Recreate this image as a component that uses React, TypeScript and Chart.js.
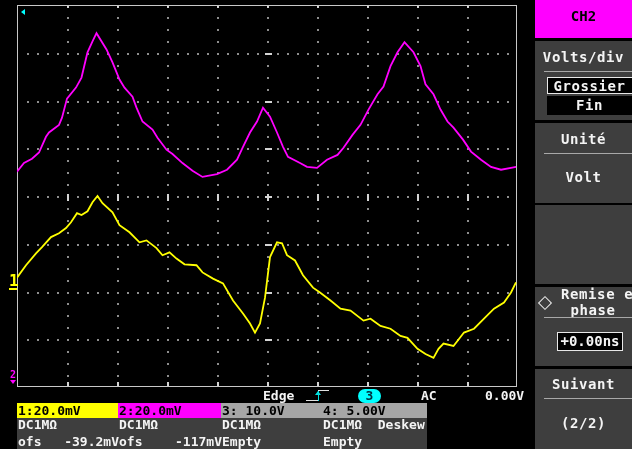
import React, { useEffect, useRef } from "react";
import { Chart, registerables } from "chart.js";
Chart.register(...registerables);

// Horizontal position in divisions (0..10), vertical in divisions (-4..4)
const ch2X = [0.00,0.14,0.30,0.44,0.58,0.64,0.84,0.90,1.00,1.18,1.29,1.41,1.51,1.59,1.79,1.91,2.05,2.15,2.31,2.39,2.51,2.71,2.81,2.99,3.11,3.31,3.51,3.71,4.00,4.20,4.40,4.52,4.66,4.80,4.92,5.06,5.20,5.32,5.42,5.66,5.80,6.00,6.20,6.41,6.53,6.71,6.87,7.03,7.21,7.33,7.47,7.61,7.75,7.93,8.07,8.17,8.33,8.47,8.61,8.73,8.92,9.08,9.28,9.48,9.68,9.88,9.98];
const ch2Y = [0.51,0.69,0.78,0.91,1.24,1.33,1.49,1.64,2.04,2.27,2.48,3.01,3.24,3.41,3.07,2.80,2.44,2.27,2.08,1.85,1.56,1.39,1.22,0.97,0.88,0.69,0.53,0.40,0.46,0.55,0.76,1.03,1.33,1.56,1.85,1.66,1.33,1.03,0.82,0.69,0.61,0.59,0.76,0.86,1.01,1.28,1.49,1.81,2.13,2.29,2.72,3.01,3.22,3.01,2.72,2.34,2.13,1.81,1.56,1.43,1.18,0.93,0.76,0.61,0.55,0.59,0.61];
const ch1X = [0.00,0.18,0.38,0.50,0.68,0.84,0.98,1.08,1.20,1.29,1.41,1.51,1.61,1.71,1.91,2.05,2.25,2.45,2.59,2.79,2.91,3.05,3.19,3.35,3.59,3.71,3.92,4.12,4.32,4.52,4.66,4.76,4.86,4.96,5.06,5.20,5.30,5.40,5.56,5.72,5.92,6.06,6.27,6.47,6.67,6.93,7.07,7.27,7.47,7.67,7.81,8.01,8.17,8.33,8.43,8.53,8.73,8.94,9.14,9.34,9.54,9.74,9.88,9.98];
const ch1Y = [-1.71,-1.45,-1.20,-1.07,-0.86,-0.78,-0.67,-0.55,-0.36,-0.40,-0.32,-0.13,0.00,-0.15,-0.34,-0.61,-0.76,-0.97,-0.93,-1.09,-1.24,-1.18,-1.31,-1.43,-1.45,-1.60,-1.73,-1.83,-2.19,-2.46,-2.67,-2.86,-2.67,-2.13,-1.28,-0.97,-0.99,-1.24,-1.35,-1.66,-1.92,-2.02,-2.19,-2.36,-2.40,-2.61,-2.57,-2.72,-2.78,-2.93,-2.97,-3.20,-3.31,-3.39,-3.20,-3.09,-3.14,-2.86,-2.78,-2.57,-2.36,-2.23,-2.02,-1.81];

const xDivs = [1,2,3,4,5,6,7,8,9];
const yDivs = [-3,-2,-1,0,1,2,3];

const channelHeaders = ["1:20.0mV", "2:20.0mV", "3: 10.0V", "4: 5.00V"];
const channelCoupling = ["DC1M\u03A9", "DC1M\u03A9", "DC1M\u03A9", "DC1M\u03A9  Deskew"];
const channelOffsets = ["-39.2mV", "-117mV", "", ""];

const FONT = '"DejaVu Sans Mono", monospace';

const gridPlugin = {
  id: "scopeGrid",
  beforeDatasetsDraw(chart: any) {
    const { ctx, chartArea: a, scales } = chart;
    const x = scales.x, y = scales.y;
    ctx.save();
    ctx.fillStyle = "#8e8e8e";
    for (const gy of yDivs) {
      const py = Math.round(y.getPixelForValue(gy));
      for (let k = 1; k < 50; k++) {
        const px = Math.round(x.getPixelForValue(k * 0.2));
        ctx.fillRect(px, py, 2, 2);
      }
    }
    for (const gx of xDivs) {
      const px = Math.round(x.getPixelForValue(gx));
      for (let k = 1; k < 32; k++) {
        const py = Math.round(y.getPixelForValue(-4 + k * 0.25));
        ctx.fillRect(px, py, 2, 2);
      }
    }
    // centre axes ticks
    const cx = Math.round(x.getPixelForValue(5));
    const cy = Math.round(y.getPixelForValue(0));
    ctx.fillStyle = "#d4d4d4";
    for (const gx of xDivs) {
      const px = Math.round(x.getPixelForValue(gx));
      ctx.fillRect(px, cy - 2, 2, 7);
      ctx.fillRect(px, a.bottom - 5, 2, 4);
      ctx.fillRect(px, a.top + 1, 2, 2);
    }
    for (const gy of yDivs) {
      const py = Math.round(y.getPixelForValue(gy));
      ctx.fillRect(cx - 2, py, 7, 2);
    }
    // border
    ctx.fillStyle = "#c8c8c8";
    ctx.fillRect(a.left, a.top, a.right - a.left, 1);
    ctx.fillRect(a.left, a.bottom - 1, a.right - a.left, 1);
    ctx.fillRect(a.left, a.top, 1, a.bottom - a.top);
    ctx.fillRect(a.right - 1, a.top, 1, a.bottom - a.top);
    ctx.restore();
  },
};

function T(props: any) {
  const { x, y, w, align, color, size, children, weight, ls } = props;
  const s: any = {
    position: "absolute",
    left: x,
    top: y - 9,
    height: 18,
    lineHeight: "18px",
    fontFamily: FONT,
    fontSize: size || 13,
    fontWeight: weight || "bold",
    color: color || "#f4f4f4",
    whiteSpace: "pre",
    letterSpacing: ls || 0,
  };
  if (w !== undefined) {
    s.width = w;
    s.textAlign = align || "center";
  }
  return <div style={s}>{children}</div>;
}

function Box(props: any) {
  return (
    <div
      style={{
        position: "absolute",
        left: props.x,
        top: props.y,
        width: props.w,
        height: props.h,
        background: props.bg,
        boxSizing: "border-box",
        borderLeft: props.bevel ? "2px solid #8e8e8e" : undefined,
        borderTop: props.bevel ? "2px solid #8e8e8e" : undefined,
        border: props.border,
      }}
    />
  );
}

export default function App() {
  const ref = useRef<HTMLCanvasElement>(null);
  useEffect(() => {
    const chart = new Chart(ref.current as HTMLCanvasElement, {
      type: "line",
      data: {
        datasets: [
          {
            data: ch2X.map((v, i) => ({ x: v, y: ch2Y[i] })),
            borderColor: "#ff00ff",
            borderWidth: 1.8,
            pointRadius: 0,
            tension: 0,
          },
          {
            data: ch1X.map((v, i) => ({ x: v, y: ch1Y[i] })),
            borderColor: "#ffff00",
            borderWidth: 1.8,
            pointRadius: 0,
            tension: 0,
          },
        ],
      },
      options: {
        responsive: false,
        maintainAspectRatio: false,
        animation: false,
        layout: { padding: { left: 17, top: 5, right: 115, bottom: 62 } },
        scales: {
          x: { type: "linear", min: 0, max: 10, display: false },
          y: { type: "linear", min: -4, max: 4, display: false },
        },
        plugins: { legend: { display: false }, tooltip: { enabled: false } },
      },
      plugins: [gridPlugin],
    });
    return () => chart.destroy();
  }, []);

  const headerX = [17, 118, 221, 322];
  const headerW = [101, 103, 101, 105];
  const headerBg = ["#ffff00", "#ff00ff", "#a6a6a6", "#a6a6a6"];

  return (
    <div
      style={{
        position: "fixed",
        left: 0,
        top: 0,
        width: 632,
        height: 449,
        background: "#000",
        overflow: "hidden",
      }}
    >
      <canvas ref={ref} width={632} height={449} style={{ position: "absolute", left: 0, top: 0 }} />

      {/* markers */}
      <div style={{ position: "absolute", left: 21, top: 9, width: 0, height: 0, borderTop: "3px solid transparent", borderBottom: "3px solid transparent", borderRight: "4px solid #00ffff" }} />
      <T x={9} y={281} size={16} color="#ffff00">1</T>
      <div style={{ position: "absolute", left: 9, top: 288, width: 8, height: 2, background: "#ffff00" }} />
      <T x={10} y={375} size={10} color="#ff00ff">2</T>
      <div style={{ position: "absolute", left: 10, top: 380, width: 0, height: 0, borderLeft: "3px solid transparent", borderRight: "3px solid transparent", borderTop: "4px solid #ff00ff" }} />

      {/* status bar */}
      <T x={263} y={396}>Edge</T>
      <div style={{ position: "absolute", left: 306, top: 400, width: 12, height: 1, background: "#e0e0e0" }} />
      <div style={{ position: "absolute", left: 318, top: 391, width: 1, height: 10, background: "#00e0e0" }} />
      <div style={{ position: "absolute", left: 318, top: 390, width: 11, height: 1, background: "#e0e0e0" }} />
      <div style={{ position: "absolute", left: 315, top: 391, width: 0, height: 0, borderLeft: "3px solid transparent", borderRight: "3px solid transparent", borderBottom: "4px solid #00e0e0" }} />
      <div style={{ position: "absolute", left: 358, top: 389, width: 23, height: 14, borderRadius: 7, background: "#00ffff" }} />
      <T x={358} y={396} w={23} color="#003040">3</T>
      <T x={421} y={396}>AC</T>
      <T x={485} y={396}>0.00V</T>

      {/* channel boxes */}
      <Box x={17} y={418} w={410} h={31} bg="#3e3e3e" />
      {channelHeaders.map((h, i) => (
        <React.Fragment key={i}>
          <Box x={headerX[i]} y={403} w={headerW[i]} h={15} bg={headerBg[i]} />
          <T x={headerX[i] + 1} y={411} color="#000">{h}</T>
          <T x={headerX[i] + 1} y={425}>{channelCoupling[i]}</T>
          {channelOffsets[i] ? (
            <>
              <T x={headerX[i] + 1} y={442}>ofs</T>
              <T x={headerX[i]} y={442} w={headerW[i] + 1} align="right">{channelOffsets[i]}</T>
            </>
          ) : (
            <T x={headerX[i] + 1} y={442}>Empty</T>
          )}
        </React.Fragment>
      ))}

      {/* right menu */}
      <Box x={535} y={0} w={97} h={38} bg="#ff00ff" />
      <T x={535} y={16} w={97} color="#000" size={14}>CH2</T>

      <Box x={535} y={41} w={97} h={79} bg="#3e3e3e" bevel />
      <T x={535} y={57} w={97} size={14} ls="0.6px">Volts/div</T>
      <div style={{ position: "absolute", left: 544, top: 71, width: 88, height: 1, background: "#a8a8a8" }} />
      <Box x={547} y={77} w={90} h={17} bg="#000" border="1px solid #e8e8e8" />
      <T x={547} y={86} w={85} size={14} ls="0.6px">Grossier</T>
      <Box x={547} y={96} w={90} h={19} bg="#000" />
      <T x={547} y={105} w={85} size={14} ls="0.6px">Fin</T>

      <Box x={535} y={123} w={97} h={80} bg="#3e3e3e" bevel />
      <T x={535} y={139} w={97} size={14} ls="0.6px">Unité</T>
      <div style={{ position: "absolute", left: 544, top: 153, width: 88, height: 1, background: "#a8a8a8" }} />
      <T x={535} y={177} w={97} size={14} ls="0.6px">Volt</T>

      <Box x={535} y={205} w={97} h={79} bg="#3e3e3e" bevel />

      <Box x={535} y={287} w={97} h={79} bg="#3e3e3e" bevel />
      <div style={{ position: "absolute", left: 540, top: 298, width: 8, height: 8, border: "1.5px solid #f0f0f0", transform: "rotate(45deg)" }} />
      <T x={561} y={294} size={14} ls="0.6px">Remise en</T>
      <T x={560} y={310} w={66} size={14} ls="0.6px">phase</T>
      <div style={{ position: "absolute", left: 544, top: 317, width: 88, height: 1, background: "#a8a8a8" }} />
      <Box x={557} y={332} w={66} h={19} bg="#000" border="1px solid #e8e8e8" />
      <T x={557} y={341} w={66} size={14}>+0.00ns</T>

      <Box x={535} y={369} w={97} h={80} bg="#3e3e3e" bevel />
      <T x={535} y={384} w={97} size={14} ls="0.6px">Suivant</T>
      <div style={{ position: "absolute", left: 544, top: 398, width: 88, height: 1, background: "#a8a8a8" }} />
      <T x={535} y={423} w={97} size={14} ls="0.6px">(2/2)</T>
    </div>
  );
}
